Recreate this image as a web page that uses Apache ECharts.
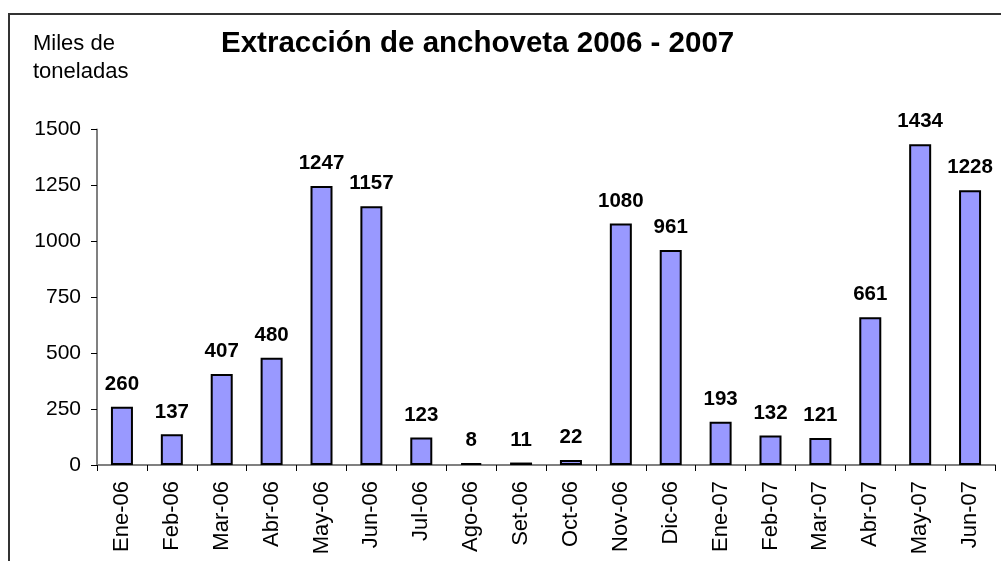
<!DOCTYPE html>
<html>
<head>
<meta charset="utf-8">
<script src="https://cdn.jsdelivr.net/npm/echarts@6/dist/echarts.min.js"></script>
<style>html,body{margin:0;padding:0;background:#fff;}#c{width:1001px;height:561px;}</style>
</head>
<body>
<div id="c"></div>
<script>
const titleText = 'Extracción de anchoveta 2006 - 2007';
const yName = 'Miles de\ntoneladas';
const categories = ['Ene-06','Feb-06','Mar-06','Abr-06','May-06','Jun-06','Jul-06','Ago-06','Set-06','Oct-06','Nov-06','Dic-06','Ene-07','Feb-07','Mar-07','Abr-07','May-07','Jun-07'];
const values = [260,137,407,480,1247,1157,123,8,11,22,1080,961,193,132,121,661,1434,1228];
const yMin = 0, yMax = 1500, yStep = 250;

const chart = echarts.init(document.getElementById('c'));
const font = 'Liberation Sans, Arial, sans-serif';
chart.setOption({
  animation: false,
  backgroundColor: '#fff',
  title: [
    {text: titleText, left: 216, top: 24, textStyle: {fontFamily: font, fontSize: 29.5, fontWeight: 'bold', color: '#000'}},
    {text: yName, left: 28, top: 25, textStyle: {fontFamily: font, fontSize: 22, fontWeight: 'normal', color: '#000', lineHeight: 28}}
  ],
  graphic: [{type: 'rect', shape: {x: 9, y: 14, width: 1100, height: 700}, style: {fill: 'none', stroke: '#333', lineWidth: 2}}],
  grid: {left: 97, right: 6, top: 129.5, bottom: 96},
  xAxis: {
    type: 'category', data: categories,
    axisLine: {lineStyle: {color: '#808080', width: 2}},
    axisTick: {show: true, length: 6, lineStyle: {color: '#000', width: 1}},
    axisLabel: {rotate: 90, margin: 16, fontFamily: font, fontSize: 22, color: '#000'}
  },
  yAxis: {
    type: 'value', min: yMin, max: yMax, interval: yStep,
    splitLine: {show: false},
    axisLine: {show: true, lineStyle: {color: '#808080', width: 2}},
    axisTick: {show: true, length: 6, lineStyle: {color: '#000', width: 1}},
    axisLabel: {margin: 16, fontFamily: font, fontSize: 21, color: '#000', formatter: v => String(v)}
  },
  series: [{
    type: 'bar', data: values, barWidth: 22,
    itemStyle: {color: '#9999FF', borderColor: '#000', borderWidth: 2},
    label: {show: true, position: 'top', distance: 12, fontFamily: font, fontSize: 20.5, fontWeight: 'bold', color: '#000'}
  }]
});
</script>
</body>
</html>
